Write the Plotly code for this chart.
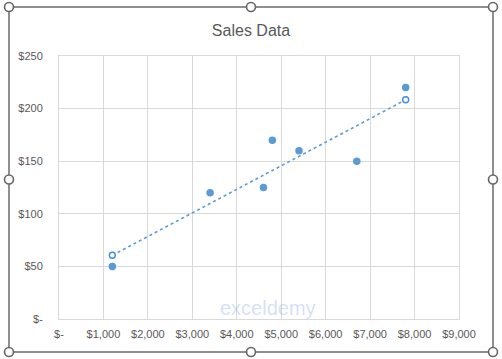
import numpy as np
import plotly.graph_objects as go

# Data
sales = [1200, 3400, 4600, 4800, 5400, 6700, 7800]
profit = [50, 120, 125, 170, 160, 150, 220]
x_tickvals = [0, 1000, 2000, 3000, 4000, 5000, 6000, 7000, 8000, 9000]
x_ticktext = ["$-", "$1,000", "$2,000", "$3,000", "$4,000", "$5,000", "$6,000", "$7,000", "$8,000", "$9,000"]
y_tickvals = [0, 50, 100, 150, 200, 250]
y_ticktext = ["$-", "$50", "$100", "$150", "$200", "$250"]

# Linear trendline (least squares)
slope, intercept = np.polyfit(sales, profit, 1)
trend_x = [min(sales), max(sales)]
trend_y = [slope * v + intercept for v in trend_x]

W, H = 502, 359
L, R, T, B = 59, 43, 56, 40
PW, PH = W - L - R, H - T - B

def px(x):
    return (x - L) / PW

def py(y):
    return (H - B - y) / PH

blue = "#5B9BD5"
grid = "#D9D9D9"
text = "#595959"
font = "Liberation Sans, Arial, sans-serif"

fig = go.Figure()
fig.add_trace(go.Scatter(
    x=trend_x, y=trend_y, mode="lines+markers",
    line=dict(color=blue, width=1.6, dash="dot"),
    marker=dict(size=6, color="white", line=dict(color="#3A8EDC", width=1.4)),
    hoverinfo="skip", showlegend=False, cliponaxis=False))
fig.add_trace(go.Scatter(
    x=sales, y=profit, mode="markers",
    marker=dict(size=7.5, color=blue),
    showlegend=False, cliponaxis=False))

shapes = []
# chart frame
fx0, fx1, fy0, fy1 = 9, 493, 7, 352
shapes.append(dict(type="rect", xref="paper", yref="paper",
                   x0=px(fx0), x1=px(fx1), y0=py(fy1), y1=py(fy0),
                   line=dict(color="#6B6B6B", width=1.5), layer="above"))
# selection handles
r = 4.5
for hx in (fx0, (fx0 + fx1) / 2, fx1):
    for hy in (fy0, (fy0 + fy1) / 2, fy1):
        if hx == (fx0 + fx1) / 2 and hy == (fy0 + fy1) / 2:
            continue
        shapes.append(dict(type="circle", xref="paper", yref="paper",
                           x0=px(hx - r), x1=px(hx + r), y0=py(hy + r), y1=py(hy - r),
                           fillcolor="white", line=dict(color="#666666", width=1.6),
                           layer="above"))

annotations = [
    dict(text="exceldemy", xref="paper", yref="paper", x=px(268), y=py(321),
         showarrow=False, font=dict(family=font, size=20, color="rgba(110,150,230,0.30)")),
]

fig.update_layout(
    width=W, height=H,
    margin=dict(l=L, r=R, t=T, b=B),
    paper_bgcolor="white", plot_bgcolor="white",
    title=dict(text="Sales Data", x=251 / W, xref="container", xanchor="center",
               y=1 - 30 / H, yref="container", yanchor="middle",
               font=dict(family=font, size=16, color=text)),
    xaxis=dict(range=[0, 9000], tickvals=x_tickvals, ticktext=x_ticktext,
               showgrid=True, gridcolor=grid, gridwidth=1, zeroline=False,
               showline=True, linecolor=grid, linewidth=1, mirror=True,
               ticks="", ticklabelstandoff=5,
               tickfont=dict(family=font, size=11, color=text)),
    yaxis=dict(range=[0, 250], tickvals=y_tickvals, ticktext=y_ticktext,
               showgrid=True, gridcolor=grid, gridwidth=1, zeroline=False,
               showline=True, linecolor=grid, linewidth=1, mirror=True,
               ticks="", ticklabelstandoff=13,
               tickfont=dict(family=font, size=11, color=text)),
    shapes=shapes, annotations=annotations,
)

fig.write_html("out.html", config={"displayModeBar": False},
               post_script="document.body.style.margin='0';document.body.style.overflow='hidden';")
